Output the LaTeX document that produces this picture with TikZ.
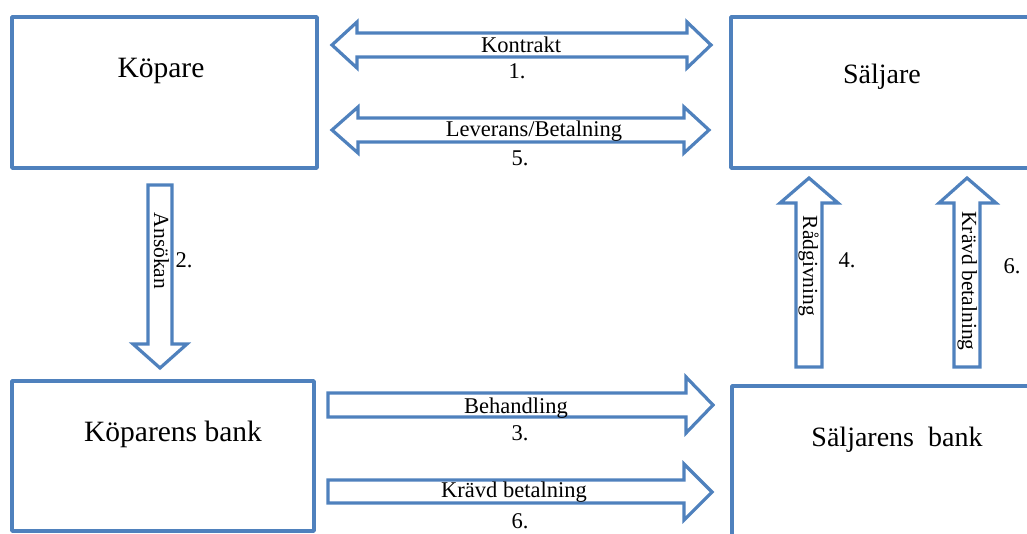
\documentclass[tikz,border=0pt]{standalone}
\usepackage{fontspec}
\setmainfont{Liberation Serif}
\definecolor{boxblue}{HTML}{4F81BD}
\begin{document}
\begin{tikzpicture}[x=1pt,y=-1pt,
  box/.style={draw=boxblue, line width=3.5pt, line join=round, inner sep=0pt, outer sep=0pt, anchor=north west},
  blockarrow/.style={draw=boxblue, fill=white, line width=3.2pt, line join=miter},
  biglabel/.style={font=\fontsize{29.5}{32}\selectfont, inner sep=0pt, anchor=base},
  midlabel/.style={font=\fontsize{28}{30}\selectfont, inner sep=0pt, anchor=base},
  smalllabel/.style={font=\fontsize{22.5}{24}\selectfont, inner sep=0pt, anchor=base},
  vlabel/.style={font=\fontsize{21.5}{23}\selectfont, inner sep=0pt, anchor=base, rotate=-90},
  numlabel/.style={font=\fontsize{22.5}{24}\selectfont, inner sep=0pt}]
\useasboundingbox (0,0) rectangle (1027,534);
\clip (0,0) rectangle (1027,534);
% boxes
\node[box, minimum width=305pt, minimum height=151pt] (kop) at (12,17) {};
\node[box, minimum width=320pt, minimum height=151pt] (salj) at (731,17) {};
\node[box, minimum width=302pt, minimum height=150pt] (kopbank) at (12,381) {};
\node[box, minimum width=320pt, minimum height=165pt] (saljbank) at (732,386) {};
\node[biglabel] (tkop) at (161,78) {Köpare};
\node[midlabel] (tsalj) at (882,84) {Säljare};
\node[biglabel] (tkopbank) at (173,441) {Köparens bank};
\node[midlabel] (tsaljbank) at (897,446) {Säljarens\ \ bank};
% block arrows
\draw[blockarrow] (332,45) -- (357,22) -- (357,33) -- (687,33) -- (687,22) -- (711,45)
  -- (687,68) -- (687,57) -- (357,57) -- (357,68) -- cycle;
\draw[blockarrow] (332,130) -- (358,107) -- (358,118) -- (684,118) -- (684,107) -- (709,130)
  -- (684,153) -- (684,142) -- (358,142) -- (358,153) -- cycle;
\draw[blockarrow] (328,393) -- (686,393) -- (686,377) -- (713,405) -- (686,433) -- (686,417)
  -- (328,417) -- cycle;
\draw[blockarrow] (328,480) -- (684,480) -- (684,464) -- (712,492) -- (684,520) -- (684,503)
  -- (328,503) -- cycle;
\draw[blockarrow] (148,185) -- (172,185) -- (172,344) -- (187,344) -- (160,368) -- (133,344)
  -- (148,344) -- cycle;
\draw[blockarrow] (796,367) -- (796,203) -- (780,203) -- (809,178) -- (838,203) -- (822,203)
  -- (822,367) -- cycle;
\draw[blockarrow] (954,367) -- (954,203) -- (939,203) -- (967,178) -- (996,203) -- (980,203)
  -- (980,367) -- cycle;
% arrow labels
\node[smalllabel] (lkontrakt) at (521,53) {Kontrakt};
\node[smalllabel] (n1) at (517,79) {1.};
\node[smalllabel] (lleverans) at (534,137) {Leverans/Betalning};
\node[smalllabel] (n5) at (520,166) {5.};
\node[smalllabel] (lbehandling) at (516,413) {Behandling};
\node[smalllabel] (n3) at (520,440) {3.};
\node[smalllabel] (lkravd) at (514,497) {Krävd betalning};
\node[smalllabel] (n6a) at (520,528) {6.};
\node[vlabel] (lansokan) at (154,251) {Ansökan};
\node[numlabel] (n2) at (184,260) {2.};
\node[vlabel] (lradgivning) at (803,266) {Rådgivning};
\node[numlabel] (n4) at (847,260) {4.};
\node[vlabel] (lkravdv) at (962,281) {Krävd betalning};
\node[numlabel] (n6b) at (1012,266) {6.};
\end{tikzpicture}
\end{document}
